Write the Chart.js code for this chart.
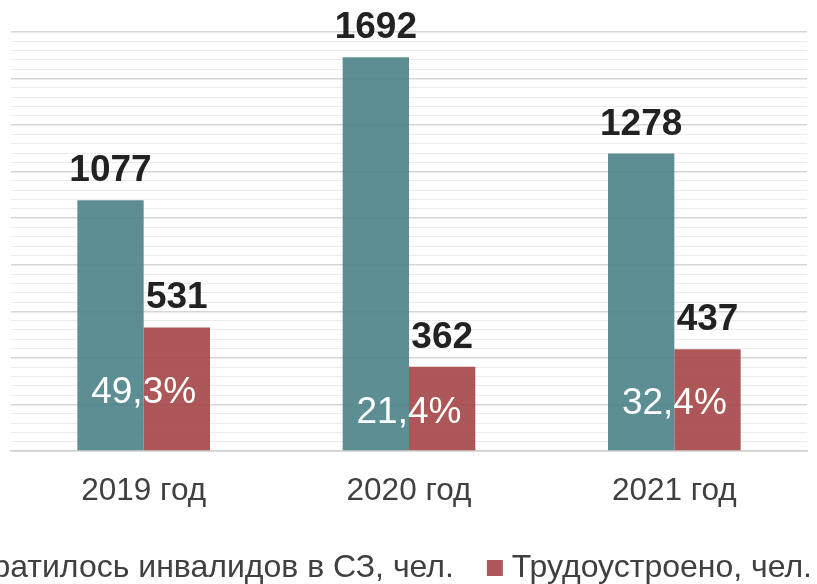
<!DOCTYPE html>
<html>
<head>
<meta charset="utf-8">
<script src="https://cdn.jsdelivr.net/npm/chart.js@4.4.1/dist/chart.umd.min.js"></script>
<style>
  html, body { margin: 0; padding: 0; background: #ffffff; overflow: hidden; width: 817px; height: 584px; }
  #wrap { position: absolute; left: -200px; top: 0; width: 1052px; height: 594px; }
</style>
</head>
<body>
<div id="wrap"><canvas id="c" width="1052" height="594"></canvas></div>
<script>
const categories = ['2019 год', '2020 год', '2021 год'];
const seriesNames = ['Обратилось инвалидов в СЗ, чел.', 'Трудоустроено, чел.'];
const appliedValues = [1077, 1692, 1278];
const employedValues = [531, 362, 437];
const shareLabels = ['49,3%', '21,4%', '32,4%'];
const yAxisMax = 1800;
const yMinorStep = 40;
const yMajorStep = 200;

const FONT = '"Liberation Sans", Arial, sans-serif';
const LEFT_OFFSET = 200;      // canvas starts this far left of the viewport
const LEGEND_PAD = 40;

const yTickValues = [];
for (let v = 0; v <= yAxisMax; v += yMinorStep) yTickValues.push(v);

const labelPlugin = {
  id: 'valueLabels',
  afterDatasetsDraw(chart) {
    const ctx = chart.ctx;
    ctx.save();
    ctx.textAlign = 'center';
    ctx.textBaseline = 'alphabetic';
    ctx.font = 'bold 37px ' + FONT;
    ctx.fillStyle = '#222222';
    chart.data.datasets.forEach((ds, di) => {
      const meta = chart.getDatasetMeta(di);
      meta.data.forEach((bar, i) => {
        ctx.fillText(String(ds.data[i]), bar.x, bar.y - 19);
      });
    });
    const m0 = chart.getDatasetMeta(0);
    const m1 = chart.getDatasetMeta(1);
    ctx.font = '37px ' + FONT;
    ctx.fillStyle = '#ffffff';
    ctx.textBaseline = 'middle';
    m1.data.forEach((bar, i) => {
      const x = (m0.data[i].x + bar.x) / 2;
      const y = (bar.y + bar.base) / 2 + 4;
      ctx.fillText(shareLabels[i], x, y);
    });
    ctx.restore();
  }
};

new Chart(document.getElementById('c'), {
  type: 'bar',
  data: {
    labels: categories,
    datasets: [
      { label: seriesNames[0], data: appliedValues, backgroundColor: 'rgba(75,130,136,0.9)', borderWidth: 0, categoryPercentage: 0.5, barPercentage: 1.0 },
      { label: seriesNames[1], data: employedValues, backgroundColor: 'rgba(164,69,70,0.9)', borderWidth: 0, categoryPercentage: 0.5, barPercentage: 1.0 }
    ]
  },
  options: {
    responsive: false,
    animation: false,
    devicePixelRatio: 1,
    layout: { padding: { top: 32, left: 0, right: 0, bottom: 0 } },
    scales: {
      x: {
        grid: { display: false, drawTicks: false },
        border: { display: true, color: '#d0d0d0', width: 1.5 },
        ticks: { color: '#404040', font: { family: FONT, size: 31.5 }, padding: 21 },
        afterFit(axis) { axis.height = 61; }
      },
      y: {
        position: 'left',
        min: 0,
        max: yAxisMax,
        afterBuildTicks(axis) { axis.ticks = yTickValues.map(v => ({ value: v })); },
        ticks: { display: false },
        border: { display: false },
        grid: {
          drawTicks: false,
          color: (c) => (c.tick && c.tick.value % yMajorStep === 0) ? '#d6d6d6' : '#ececec',
          lineWidth: (c) => (c.tick && c.tick.value % yMajorStep === 0) ? 1.5 : 1
        },
        afterFit(axis) { axis.width = LEFT_OFFSET + 11; }
      },
      yRight: {
        position: 'right',
        min: 0,
        max: 1,
        display: true,
        ticks: { display: false },
        border: { display: false },
        grid: { display: false, drawTicks: false },
        afterFit(axis) { axis.width = 45; }
      }
    },
    plugins: {
      tooltip: { enabled: false },
      legend: {
        position: 'bottom',
        align: 'end',
        labels: {
          color: '#404040',
          font: { family: FONT, size: 32 },
          usePointStyle: true,
          pointStyle: 'rect',
          boxWidth: 2,
          boxHeight: 16,
          padding: LEGEND_PAD
        }
      }
    }
  },
  plugins: [labelPlugin]
});
</script>
</body>
</html>
